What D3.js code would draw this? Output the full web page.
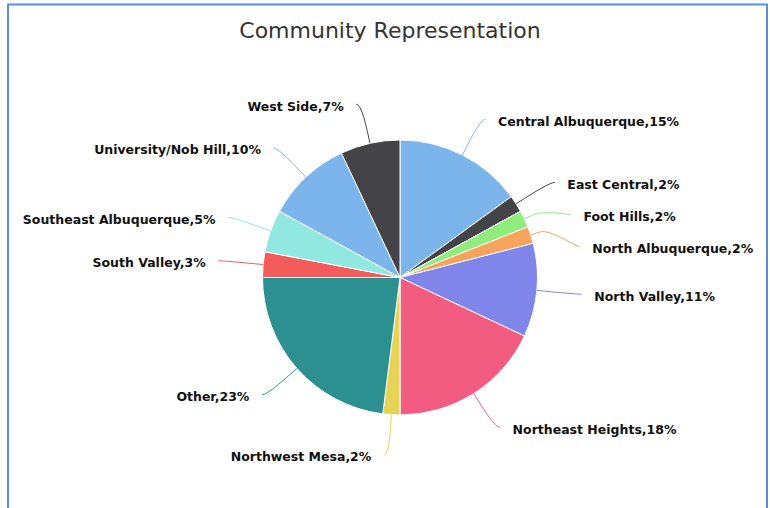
<!DOCTYPE html>
<html>
<head>
<meta charset="utf-8">
<script src="https://cdn.jsdelivr.net/npm/d3@7"></script>
<style>
  body { margin: 0; background: #fff; }
  svg { display: block; }
</style>
</head>
<body>
<svg id="chart" width="770" height="508"></svg>
<script>
const communities = [
  "Central Albuquerque", "East Central", "Foot Hills", "North Albuquerque",
  "North Valley", "Northeast Heights", "Northwest Mesa", "Other",
  "South Valley", "Southeast Albuquerque", "University/Nob Hill", "West Side"
];
const shares = [15, 2, 2, 2, 11, 18, 2, 23, 3, 5, 10, 7];
const palette = [
  "#7cb5ec", "#434348", "#90ed7d", "#f7a35c", "#8085e9", "#f15c80",
  "#e4d354", "#2b908f", "#f45b5b", "#91e8e1", "#7cb5ec", "#434348"
];

const width = 770, height = 508;
const cx = 400, cy = 277.5, radius = 137.5;
const labelRadius = radius + 40;

const svg = d3.select("#chart");

// frame
svg.append("rect")
  .attr("x", 8).attr("y", 4.5)
  .attr("width", 759).attr("height", 520)
  .attr("fill", "#fff")
  .attr("stroke", "#5b8ed8")
  .attr("stroke-width", 2);

svg.append("text")
  .attr("x", 390).attr("y", 38)
  .attr("text-anchor", "middle")
  .attr("font-family", "'Lucida Grande', 'DejaVu Sans', sans-serif")
  .attr("font-size", 22)
  .attr("fill", "#333")
  .text("Community Representation");

const pie = d3.pie().sort(null).value(d => d.value);
const arcs = pie(communities.map((name, i) => ({ name, value: shares[i], color: palette[i] })));

const arc = d3.arc().innerRadius(0).outerRadius(radius);

const g = svg.append("g").attr("transform", `translate(${cx},${cy})`);

g.selectAll("path.slice")
  .data(arcs)
  .enter()
  .append("path")
  .attr("class", "slice")
  .attr("d", arc)
  .attr("fill", d => d.data.color)
  .attr("stroke", "#fff")
  .attr("stroke-width", 1);

// label layout: natural spot on an outer circle, then push apart per side
arcs.forEach(d => {
  d.mid = (d.startAngle + d.endAngle) / 2;
  d.side = Math.sin(d.mid) >= 0 ? 1 : -1;
  d.ly = -Math.cos(d.mid) * labelRadius;
});
const minGap = 32;
[1, -1].forEach(side => {
  const group = arcs.filter(d => d.side === side).sort((a, b) => a.ly - b.ly);
  for (let i = 1; i < group.length; i++) {
    if (group[i].ly - group[i - 1].ly < minGap) group[i].ly = group[i - 1].ly + minGap;
  }
});
arcs.forEach(d => {
  const dy = Math.max(-labelRadius, Math.min(labelRadius, d.ly));
  d.lx = d.side * Math.sqrt(labelRadius * labelRadius - dy * dy);
  d.edge = [Math.sin(d.mid) * radius, -Math.cos(d.mid) * radius];
  d.elbow = [Math.sin(d.mid) * (radius + 10), -Math.cos(d.mid) * (radius + 10)];
});

g.selectAll("path.connector")
  .data(arcs)
  .enter()
  .append("path")
  .attr("class", "connector")
  .attr("fill", "none")
  .attr("stroke", d => d.data.color)
  .attr("stroke-width", 1)
  .attr("d", d => {
    const sx = d.lx + d.side * 5;
    const c2x = 2 * d.elbow[0] - d.edge[0], c2y = 2 * d.elbow[1] - d.edge[1];
    return `M${sx},${d.ly} C${d.lx},${d.ly} ${c2x},${c2y} ${d.elbow[0]},${d.elbow[1]} L${d.edge[0]},${d.edge[1]}`;
  });

g.selectAll("text.label")
  .data(arcs)
  .enter()
  .append("text")
  .attr("class", "label")
  .attr("x", d => d.lx + d.side * 17.5)
  .attr("y", d => d.ly + 2)
  .attr("dy", "0.35em")
  .attr("text-anchor", d => d.side > 0 ? "start" : "end")
  .attr("font-family", "'Lucida Grande', 'DejaVu Sans', sans-serif")
  .attr("font-weight", "bold")
  .attr("font-size", 12.5)
  .attr("fill", "#111")
  .text(d => `${d.data.name},${d.data.value}%`);
</script>
</body>
</html>
